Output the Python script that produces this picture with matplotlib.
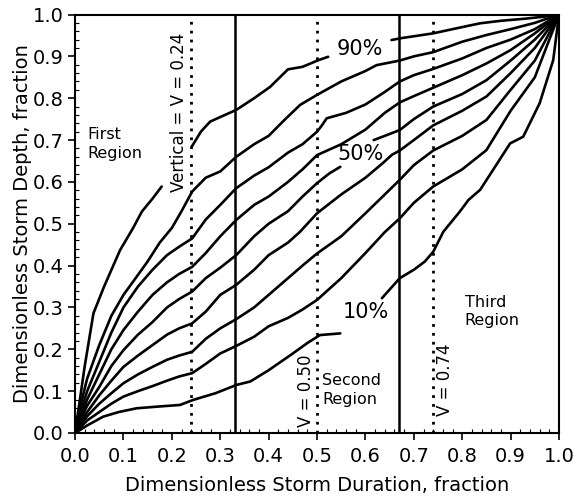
import numpy as np
import matplotlib
matplotlib.use("Agg")
import matplotlib.pyplot as plt
from matplotlib.ticker import MultipleLocator, FormatStrFormatter

nan = np.nan

# ---- data ----
x90 = [0, 0.01, 0.02, 0.038, 0.06, 0.093, 0.12, 0.138, 0.16, 0.179, nan,
       0.241, 0.26, 0.279, 0.30, 0.333, 0.37, 0.403, 0.44, 0.47, 0.503, 0.523, nan,
       0.654, 0.671, 0.70, 0.74, 0.78, 0.837, 0.88, 0.93, 0.97, 1.0]
y90 = [0, 0.08, 0.16, 0.286, 0.35, 0.437, 0.49, 0.529, 0.56, 0.589, nan,
       0.684, 0.72, 0.744, 0.755, 0.772, 0.80, 0.827, 0.869, 0.875, 0.891, 0.899, nan,
       0.939, 0.943, 0.948, 0.955, 0.965, 0.979, 0.985, 0.99, 0.995, 1.0]

x80 = [0, 0.01, 0.025, 0.05, 0.075, 0.1, 0.127, 0.15, 0.175, 0.2, 0.22, 0.242, 0.27,
       0.30, 0.333, 0.37, 0.40, 0.43, 0.465, 0.5, 0.55, 0.6, 0.623, 0.671, 0.70,
       0.74, 0.8, 0.85, 0.9, 0.95, 1.0]
y80 = [0, 0.06, 0.13, 0.21, 0.28, 0.33, 0.373, 0.41, 0.455, 0.49, 0.53, 0.577, 0.61,
       0.625, 0.66, 0.69, 0.71, 0.745, 0.784, 0.808, 0.84, 0.865, 0.879, 0.89, 0.90,
       0.91, 0.935, 0.951, 0.965, 0.98, 1.0]

x70 = [0, 0.01, 0.025, 0.05, 0.075, 0.1, 0.13, 0.16, 0.19, 0.215, 0.242, 0.27, 0.30,
       0.333, 0.37, 0.40, 0.44, 0.47, 0.5, 0.51, 0.52, 0.56, 0.6, 0.64, 0.671, 0.70,
       0.74, 0.8, 0.85, 0.9, 0.95, 1.0]
y70 = [0, 0.045, 0.1, 0.17, 0.24, 0.30, 0.35, 0.39, 0.425, 0.445, 0.465, 0.51, 0.545,
       0.585, 0.615, 0.635, 0.67, 0.69, 0.72, 0.735, 0.752, 0.765, 0.785, 0.815, 0.84,
       0.855, 0.87, 0.895, 0.92, 0.94, 0.965, 1.0]

x60 = [0, 0.01, 0.025, 0.05, 0.075, 0.1, 0.13, 0.16, 0.19, 0.215, 0.242, 0.27, 0.30,
       0.333, 0.37, 0.40, 0.44, 0.47, 0.5, 0.55, 0.6, 0.64, 0.671, 0.70, 0.74, 0.8,
       0.85, 0.9, 0.95, 1.0]
y60 = [0, 0.035, 0.08, 0.14, 0.2, 0.246, 0.29, 0.33, 0.36, 0.38, 0.397, 0.43, 0.47,
       0.509, 0.545, 0.565, 0.6, 0.63, 0.664, 0.69, 0.725, 0.765, 0.79, 0.805, 0.825,
       0.855, 0.883, 0.915, 0.955, 1.0]

x50 = [0, 0.01, 0.025, 0.05, 0.075, 0.1, 0.13, 0.16, 0.19, 0.215, 0.242, 0.27, 0.30,
       0.333, 0.37, 0.40, 0.44, 0.47, 0.5, 0.525, 0.548, nan, 0.617, 0.64, 0.671,
       0.70, 0.74, 0.8, 0.85, 0.9, 0.95, 1.0]
y50 = [0, 0.03, 0.065, 0.11, 0.16, 0.198, 0.235, 0.265, 0.3, 0.32, 0.338, 0.37, 0.395,
       0.425, 0.47, 0.5, 0.53, 0.565, 0.597, 0.62, 0.636, nan, 0.70, 0.71, 0.724,
       0.75, 0.78, 0.81, 0.843, 0.89, 0.94, 1.0]

x40 = [0, 0.01, 0.025, 0.05, 0.075, 0.1, 0.13, 0.16, 0.19, 0.215, 0.242, 0.27, 0.30,
       0.333, 0.37, 0.40, 0.44, 0.465, 0.5, 0.55, 0.6, 0.636, 0.655, 0.671, 0.70,
       0.74, 0.8, 0.85, 0.9, 0.95, 1.0]
y40 = [0, 0.025, 0.05, 0.09, 0.125, 0.158, 0.185, 0.21, 0.235, 0.25, 0.262, 0.29, 0.33,
       0.354, 0.39, 0.425, 0.455, 0.481, 0.525, 0.57, 0.61, 0.645, 0.665, 0.675, 0.70,
       0.735, 0.77, 0.804, 0.86, 0.92, 1.0]

x30 = [0, 0.01, 0.025, 0.05, 0.075, 0.1, 0.13, 0.16, 0.19, 0.215, 0.242, 0.27, 0.30,
       0.333, 0.37, 0.40, 0.44, 0.47, 0.5, 0.55, 0.6, 0.64, 0.671, 0.70, 0.74, 0.8,
       0.85, 0.9, 0.95, 1.0]
y30 = [0, 0.018, 0.04, 0.07, 0.095, 0.119, 0.14, 0.158, 0.175, 0.185, 0.194, 0.225,
       0.25, 0.272, 0.3, 0.33, 0.37, 0.40, 0.429, 0.47, 0.525, 0.57, 0.605, 0.64,
       0.675, 0.71, 0.748, 0.82, 0.89, 1.0]

x20 = [0, 0.01, 0.025, 0.05, 0.075, 0.1, 0.13, 0.16, 0.19, 0.215, 0.242, 0.27, 0.30,
       0.333, 0.37, 0.40, 0.44, 0.47, 0.5, 0.55, 0.6, 0.64, 0.671, 0.70, 0.74, 0.8,
       0.85, 0.9, 0.95, 1.0]
y20 = [0, 0.012, 0.03, 0.05, 0.07, 0.087, 0.1, 0.112, 0.125, 0.135, 0.143, 0.165,
       0.19, 0.208, 0.23, 0.255, 0.275, 0.295, 0.318, 0.37, 0.43, 0.48, 0.513, 0.55,
       0.589, 0.63, 0.676, 0.77, 0.85, 1.0]

x10 = [0, 0.01, 0.025, 0.058, 0.09, 0.127, 0.17, 0.217, 0.244, 0.29, 0.334, 0.362,
       0.40, 0.45, 0.48, 0.506, 0.548, nan, 0.634, 0.671, 0.70, 0.723, 0.74, 0.761,
       0.795, 0.813, 0.837, 0.87, 0.899, 0.926, 0.96, 0.988, 1.0]
y10 = [0, 0.007, 0.018, 0.039, 0.05, 0.059, 0.063, 0.067, 0.079, 0.095, 0.115, 0.123,
       0.15, 0.19, 0.215, 0.234, 0.238, nan, 0.322, 0.37, 0.39, 0.41, 0.433, 0.481,
       0.529, 0.557, 0.581, 0.64, 0.692, 0.708, 0.788, 0.891, 1.0]

curves_x = [x10, x20, x30, x40, x50, x60, x70, x80, x90]
curves_y = [y10, y20, y30, y40, y50, y60, y70, y80, y90]

solid_lines = [0.33, 0.67]
dotted_lines = [0.24, 0.50, 0.74]

pct_labels = ["90%", "50%", "10%"]
pct_pos = [(0.588, 0.918), (0.589, 0.666), (0.60, 0.288)]

region_labels = ["First\nRegion", "Second\nRegion", "Third\nRegion"]
region_pos = [(0.025, 0.69), (0.51, 0.103), (0.805, 0.29)]

v_labels = ["Vertical = V = 0.24", "V = 0.50", "V = 0.74"]
v_pos = [(0.214, 0.765), (0.478, 0.10), (0.765, 0.128)]

xlabel = "Dimensionless Storm Duration, fraction"
ylabel = "Dimensionless Storm Depth, fraction"

# ---- figure ----
plt.rcParams['font.family'] = ['DejaVu Sans']
fig = plt.figure(figsize=(5.73, 4.97), dpi=100)
ax = fig.add_axes([0.131, 0.1288, 0.8446, 0.842])

for xs, ys in zip(curves_x, curves_y):
    ax.plot(xs, ys, color='black', lw=1.9, solid_capstyle='round', zorder=3)

for v in solid_lines:
    ax.axvline(v, color='black', lw=1.8, zorder=2)
for v in dotted_lines:
    ax.axvline(v, color='black', lw=2.0, linestyle=(0, (1, 2.2)), zorder=2)

for t, (px, py) in zip(pct_labels, pct_pos):
    ax.text(px, py, t, ha='center', va='center', fontsize=15, zorder=4)

for t, (px, py) in zip(region_labels, region_pos):
    ax.text(px, py, t, ha='left', va='center', fontsize=11.5, linespacing=1.3, zorder=4)

for t, (px, py) in zip(v_labels, v_pos):
    ax.text(px, py, t, ha='center', va='center', rotation=90, fontsize=12, zorder=4)

ax.set_xlim(0, 1)
ax.set_ylim(0, 1)
ax.xaxis.set_major_locator(MultipleLocator(0.1))
ax.yaxis.set_major_locator(MultipleLocator(0.1))
ax.xaxis.set_minor_locator(MultipleLocator(0.02))
ax.yaxis.set_minor_locator(MultipleLocator(0.02))
ax.xaxis.set_major_formatter(FormatStrFormatter('%.1f'))
ax.yaxis.set_major_formatter(FormatStrFormatter('%.1f'))
ax.tick_params(which='major', direction='out', length=5, width=1.2, labelsize=14, pad=3)
ax.tick_params(axis='x', which='major', pad=5)
ax.tick_params(which='minor', direction='in', length=3, width=0.8)

for s in ax.spines.values():
    s.set_linewidth(1.5)
    s.set_color('black')

ax.set_xlabel(xlabel, fontsize=14, labelpad=7)
ax.set_ylabel(ylabel, fontsize=14, labelpad=1)

fig.savefig("out.png", dpi=100)
